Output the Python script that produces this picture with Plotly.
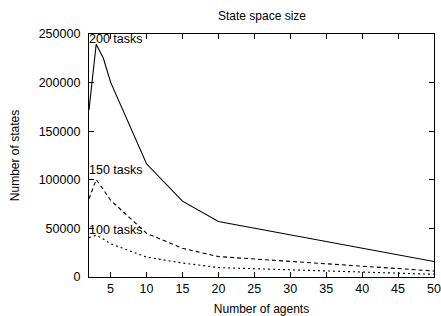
import plotly.graph_objects as go

agents = [2, 3, 4, 5, 10, 15, 20, 50]
states_200 = [172000, 239500, 225000, 200500, 116500, 78000, 57000, 16000]
states_150 = [80500, 100200, 90000, 79000, 45000, 29500, 21000, 6200]
states_100 = [40500, 43000, 39000, 34300, 20500, 14400, 9700, 2800]

series = [
    ("200 tasks", states_200, "solid", 245000),
    ("150 tasks", states_150, "4px,3px", 110000),
    ("100 tasks", states_100, "2px,3px", 48000),
]

x_ticks = [5, 10, 15, 20, 25, 30, 35, 40, 45, 50]
y_ticks = [0, 50000, 100000, 150000, 200000, 250000]

font = "Liberation Sans, Arial, Helvetica, sans-serif"

W, H = 441, 316

fig = go.Figure()
annotations = []
for name, ys, dash, label_y in series:
    fig.add_trace(go.Scatter(
        x=agents, y=ys, mode="lines", name=name,
        line=dict(color="black", width=1.1, dash=dash),
        showlegend=False,
    ))
    annotations.append(dict(
        x=agents[0], y=label_y, xref="x", yref="y", text=name,
        showarrow=False, xanchor="left", yanchor="middle",
        font=dict(family=font, size=12.5, color="black"), xshift=-2,
    ))

fig.update_layout(
    width=W, height=H,
    margin=dict(l=89, r=7, t=34, b=39),
    paper_bgcolor="white", plot_bgcolor="white",
    font=dict(family=font, size=12, color="black"),
    title=dict(text="State space size", x=262 / W, xref="container", xanchor="center",
               y=1 - 16 / H, yref="container", yanchor="middle", font=dict(size=12)),
    annotations=annotations,
)
fig.update_xaxes(
    range=[2, 50], tickvals=x_ticks, ticktext=[str(v) for v in x_ticks],
    showgrid=False, zeroline=False, showline=True, linecolor="black", linewidth=1.3,
    mirror="ticks", ticks="inside", ticklen=5, tickcolor="black",
    tickfont=dict(size=12.5), automargin=False,
    title=dict(text="Number of agents", standoff=9, font=dict(size=12)),
)
fig.update_yaxes(
    range=[0, 250000], tickvals=y_ticks, ticktext=[str(v) for v in y_ticks],
    showgrid=False, zeroline=False, showline=True, linecolor="black", linewidth=1.3,
    mirror="ticks", ticks="inside", ticklen=5, tickcolor="black",
    tickfont=dict(size=12.5), ticklabelstandoff=5, automargin=False,
    title=dict(text="Number of states", standoff=16, font=dict(size=12)),
)

fig.write_html("out.html", config={"displayModeBar": False},
               post_script="document.body.style.margin='0px';")
